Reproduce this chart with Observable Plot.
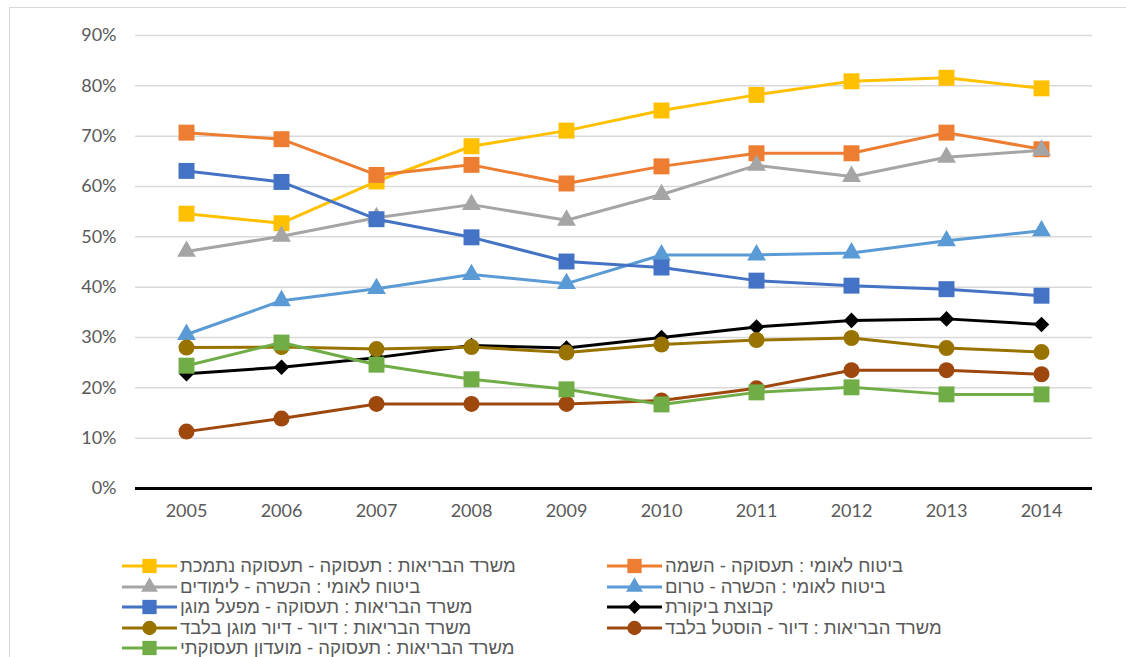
<!DOCTYPE html>
<html>
<head>
<meta charset="utf-8">
<script src="https://cdn.jsdelivr.net/npm/d3@7"></script>
<script src="https://cdn.jsdelivr.net/npm/@observablehq/plot@0.6"></script>
<style>
  html, body { margin: 0; padding: 0; background: #fff; overflow: hidden; }
  #frame { position: absolute; left: 9px; top: 7px; width: 1300px; height: 800px; border: 1px solid #d9d9d9; }
  #chart { position: absolute; left: 0; top: 0; }
  #legend { position: absolute; left: 0; top: 556px; width: 1126px; font-family: "Liberation Sans", "DejaVu Sans", sans-serif; font-size: 18.5px; color: #595959; }
  .item { position: absolute; height: 20px; display: flex; align-items: center; white-space: nowrap; }
  .item span { direction: rtl; unicode-bidi: embed; margin-left: 3px; }
</style>
</head>
<body>
<div id="frame"></div>
<div id="chart"></div>
<div id="legend"></div>
<script>
// ---- data ----
const years = [2005, 2006, 2007, 2008, 2009, 2010, 2011, 2012, 2013, 2014];
const yTicks = [0, 10, 20, 30, 40, 50, 60, 70, 80, 90];
const seriesNames = [
  "משרד הבריאות : תעסוקה - תעסוקה נתמכת",
  "ביטוח לאומי : תעסוקה - השמה",
  "ביטוח לאומי : הכשרה - לימודים",
  "ביטוח לאומי : הכשרה - טרום",
  "משרד הבריאות : תעסוקה - מפעל מוגן",
  "קבוצת ביקורת",
  "משרד הבריאות : דיור - דיור מוגן בלבד",
  "משרד הבריאות : דיור - הוסטל בלבד",
  "משרד הבריאות : תעסוקה - מועדון תעסוקתי"
];
const supportedEmployment = [54.6, 52.7, 61.0, 68.0, 71.1, 75.1, 78.2, 80.9, 81.6, 79.5];
const placement = [70.7, 69.4, 62.3, 64.3, 60.6, 64.0, 66.6, 66.6, 70.7, 67.4];
const studies = [47.1, 50.1, 53.8, 56.4, 53.3, 58.4, 64.2, 62.0, 65.8, 67.2];
const preTraining = [30.6, 37.3, 39.7, 42.5, 40.7, 46.4, 46.4, 46.8, 49.2, 51.2];
const shelteredWorkshop = [63.1, 60.9, 53.5, 49.9, 45.1, 43.9, 41.3, 40.3, 39.6, 38.3];
const controlGroup = [22.8, 24.1, 26.0, 28.4, 27.9, 30.0, 32.1, 33.4, 33.7, 32.6];
const shelteredHousing = [28.0, 28.1, 27.7, 28.1, 27.0, 28.6, 29.5, 29.9, 27.9, 27.1];
const hostel = [11.3, 13.9, 16.8, 16.8, 16.8, 17.5, 19.9, 23.5, 23.5, 22.7];
const occupationalClub = [24.4, 29.0, 24.6, 21.7, 19.7, 16.7, 19.1, 20.1, 18.7, 18.7];

// ---- styles ----
const seriesValues = [supportedEmployment, placement, studies, preTraining, shelteredWorkshop, controlGroup, shelteredHousing, hostel, occupationalClub];
const colors = ["#FFC000", "#ED7D31", "#A5A5A5", "#5B9BD5", "#4472C4", "#000000", "#997300", "#9E480E", "#70AD47"];
const symbols = ["square", "square", "triangle", "triangle", "square", "diamond2", "circle", "circle", "square"];
const radius = {square: 9, triangle: 7, circle: 8, diamond2: 7};
const d3sym = {square: d3.symbolSquare, triangle: d3.symbolTriangle, circle: d3.symbolCircle, diamond2: d3.symbolDiamond2};

const tables = seriesValues.map((vals, i) => years.map((y, j) => ({year: y, value: vals[j], series: seriesNames[i]})));

const marks = [
  Plot.ruleY(yTicks.filter(d => d > 0), {stroke: "#d9d9d9", strokeWidth: 1.5}),
  Plot.ruleY([0], {stroke: "#000", strokeWidth: 3}),
  Plot.axisY({ticks: yTicks, tickFormat: d => d + "%", tickSize: 0, tickPadding: 19, fontSize: 18, fill: "#595959", label: null}),
  Plot.axisX({tickSize: 0, tickPadding: 16, fontSize: 18, fill: "#595959", label: null, tickFormat: d => String(d)})
];
tables.forEach((t, i) => {
  marks.push(Plot.line(t, {x: "year", y: "value", stroke: colors[i], strokeWidth: 3}));
  marks.push(Plot.dot(t, {x: "year", y: "value", symbol: () => symbols[i], fill: colors[i], stroke: "none", r: radius[symbols[i]]}));
});

const chart = Plot.plot({
  width: 1126,
  height: 540,
  marginLeft: 135,
  marginRight: 34,
  marginTop: 35,
  marginBottom: 52,
  style: {fontFamily: "Lato, sans-serif", background: "transparent"},
  x: {type: "point", domain: years, padding: 0.5},
  y: {domain: [0, 90]},
  symbol: {type: "identity"},
  marks
});
document.getElementById("chart").appendChild(chart);

// ---- legend ----
const legend = document.getElementById("legend");
const colLeft = [122, 607];
seriesNames.forEach((name, i) => {
  const col = i % 2, row = Math.floor(i / 2);
  const item = document.createElement("div");
  item.className = "item";
  item.style.left = colLeft[col] + "px";
  item.style.top = (row * 20.5) + "px";
  const s = symbols[i];
  const path = d3.symbol(d3sym[s], Math.PI * radius[s] * radius[s] * 0.8)();
  item.innerHTML = `<svg width="55" height="20"><line x1="0" x2="55" y1="10" y2="10" stroke="${colors[i]}" stroke-width="3"/><path transform="translate(27.5,10)" d="${path}" fill="${colors[i]}"/></svg><span>${name}</span>`;
  legend.appendChild(item);
});
</script>
</body>
</html>
